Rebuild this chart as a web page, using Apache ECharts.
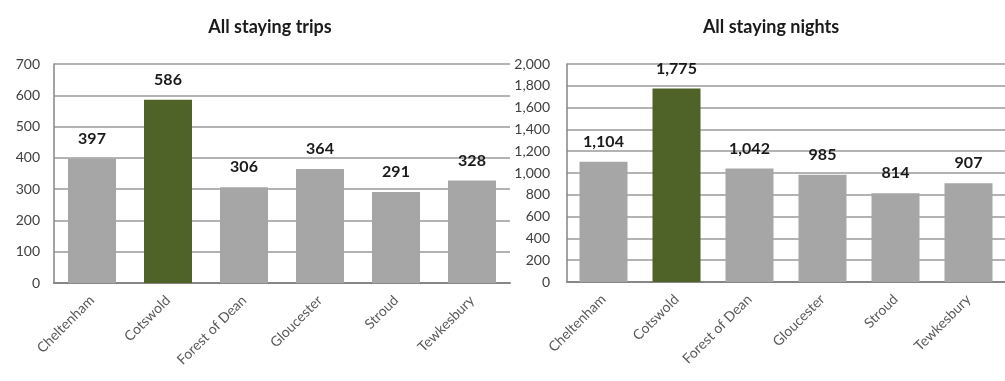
<!DOCTYPE html>
<html>
<head>
<meta charset="utf-8">
<script src="https://cdn.jsdelivr.net/npm/echarts@6/dist/echarts.min.js"></script>
<style>
html, body { margin: 0; padding: 0; background: #fff; }
#chart { width: 1005px; height: 381px; }
</style>
</head>
<body>
<div id="chart"></div>
<script>
var districts = ['Cheltenham', 'Cotswold', 'Forest of Dean', 'Gloucester', 'Stroud', 'Tewkesbury'];
var tripValues = [397, 586, 306, 364, 291, 328];
var nightValues = [1104, 1775, 1042, 985, 814, 907];
var highlightName = 'Cotswold';

var fontName = 'Lato';
var greyBar = '#a6a6a6';
var greenBar = '#4f6228';
var gridColor = '#9a9a9a';

function barData(values) {
    return values.map(function (v, i) {
        return {
            value: v,
            itemStyle: { color: districts[i] == highlightName ? greenBar : greyBar }
        };
    });
}

function fmt(n) {
    return n.toLocaleString('en-GB');
}

function makeXAxis(idx) {
    return {
        type: 'category',
        gridIndex: idx,
        data: districts,
        axisTick: { show: false },
        axisLine: { lineStyle: { color: '#868686', width: 2 } },
        axisLabel: {
            rotate: 45,
            interval: 0,
            margin: 15,
            color: '#595959',
            fontFamily: fontName,
            fontSize: 14
        }
    };
}

function makeYAxis(idx, max, step, margin) {
    return {
        type: 'value',
        gridIndex: idx,
        min: 0,
        max: max,
        interval: step,
        axisLine: { show: true, lineStyle: { color: '#868686', width: 1.5 } },
        axisTick: { show: false },
        splitLine: { lineStyle: { color: gridColor, width: 1.5 } },
        axisLabel: {
            margin: margin,
            color: '#404040',
            fontFamily: fontName,
            fontSize: 14,
            formatter: function (v) { return fmt(v); }
        }
    };
}

function makeSeries(idx, values) {
    return {
        type: 'bar',
        xAxisIndex: idx,
        yAxisIndex: idx,
        data: barData(values),
        barWidth: 48,
        animation: false,
        label: {
            show: true,
            position: 'top',
            distance: 12,
            color: '#1a1a1a',
            fontWeight: 'bold',
            fontFamily: fontName,
            fontSize: 16,
            formatter: function (p) { return fmt(p.value); }
        }
    };
}

var chart = echarts.init(document.getElementById('chart'));
chart.setOption({
    animation: false,
    title: [
        {
            text: 'All staying trips',
            left: 265, top: 13, textAlign: 'center',
            textStyle: { fontFamily: fontName, fontSize: 18, fontWeight: 'bold', color: '#1a1a1a' }
        },
        {
            text: 'All staying nights',
            left: 766, top: 13, textAlign: 'center',
            textStyle: { fontFamily: fontName, fontSize: 18, fontWeight: 'bold', color: '#1a1a1a' }
        }
    ],
    grid: [
        { left: 54, top: 64, width: 456, height: 219 },
        { left: 567, top: 64, width: 444, height: 218 }
    ],
    xAxis: [makeXAxis(0), makeXAxis(1)],
    yAxis: [makeYAxis(0, 700, 100, 14), makeYAxis(1, 2000, 200, 17)],
    series: [makeSeries(0, tripValues), makeSeries(1, nightValues)]
});
</script>
</body>
</html>
